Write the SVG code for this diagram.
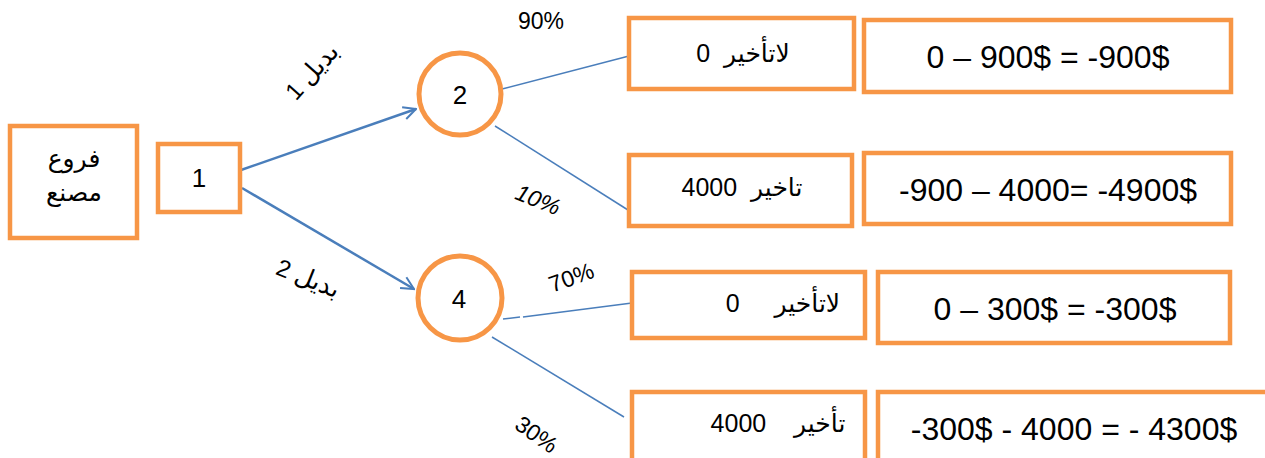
<svg xmlns="http://www.w3.org/2000/svg" width="1265" height="458" viewBox="0 0 1265 458">
<style>
.box{fill:#fff;stroke:#F79646;stroke-width:4.5}
.t{font-family:"Liberation Sans","DejaVu Sans",sans-serif;fill:#000;white-space:pre}
.ar-t{font-family:"DejaVu Sans",sans-serif;font-size:25px}
.ln{stroke:#4A7EBB;stroke-width:1.5;fill:none}
.ar{stroke:#4A7EBB;stroke-width:2.5;fill:none}
.pct{font-size:23px}
</style>
<defs>
<marker id="ah" viewBox="0 0 12 12" refX="11" refY="6" markerWidth="6" markerHeight="6" orient="auto" markerUnits="strokeWidth">
<path d="M1,1 L11,6 L1,11" fill="none" stroke="#4A7EBB" stroke-width="1.6"/>
</marker>
</defs>
<rect width="1265" height="458" fill="#fff"/>
<g id="connectors">
<line class="ar" x1="241" y1="170" x2="416" y2="109" marker-end="url(#ah)"/>
<line class="ar" x1="242" y1="188" x2="414" y2="289" marker-end="url(#ah)"/>
<line class="ln" x1="502" y1="89" x2="629" y2="56"/>
<line class="ln" x1="495" y1="126" x2="628" y2="210"/>
<line class="ln" x1="503" y1="319" x2="520" y2="317"/>
<line class="ln" x1="523" y1="317" x2="632" y2="303"/>
<line class="ln" x1="492" y1="337" x2="624" y2="417"/>
</g>
<g id="labels" class="t">
<text class="pct" x="541" y="29" text-anchor="middle">90%</text>
<text class="pct" transform="translate(535,207) rotate(22)" text-anchor="middle" font-style="italic">10%</text>
<text class="pct" transform="translate(574,285) rotate(-20)" text-anchor="middle">70%</text>
<text class="pct" transform="translate(532,441) rotate(35)" text-anchor="middle">30%</text>
<text transform="translate(318,77) rotate(-48)" font-size="24" text-anchor="middle">1 <tspan class="ar-t">بديل</tspan></text>
<text transform="translate(305,286) rotate(22)" font-size="24" text-anchor="middle">2 <tspan class="ar-t">بديل</tspan></text>
</g>
<g id="n-factory">
<rect class="box" x="10" y="126" width="127" height="112"/>
<text class="t" x="74" y="167" font-size="25" text-anchor="middle">فروع</text>
<text class="t" x="74" y="201" font-size="25" text-anchor="middle">مصنع</text>
</g>
<g id="n1">
<rect class="box" x="158" y="144" width="82" height="68"/>
<text class="t" x="199" y="187" font-size="26" text-anchor="middle">1</text>
</g>
<g id="n2">
<circle cx="460" cy="94" r="41" fill="#fff" stroke="#F79646" stroke-width="5"/>
<text class="t" x="460" y="104" font-size="26" text-anchor="middle">2</text>
</g>
<g id="n4">
<circle cx="460" cy="298" r="42" fill="#fff" stroke="#F79646" stroke-width="5"/>
<text class="t" x="459" y="308" font-size="26" text-anchor="middle">4</text>
</g>
<g id="nA">
<rect class="box" x="629" y="18" width="225" height="71"/>
<text class="t" x="743" y="62" font-size="25" text-anchor="middle">0  <tspan class="ar-t">لاتأخير</tspan></text>
</g>
<g id="nB">
<rect class="box" x="629" y="155" width="223" height="71"/>
<text class="t" x="742" y="196" font-size="25" text-anchor="middle">4000  <tspan class="ar-t">تاخير</tspan></text>
</g>
<g id="nC">
<rect class="box" x="632" y="272" width="233" height="66"/>
<text class="t" x="783" y="312" font-size="25" text-anchor="middle">0     <tspan class="ar-t">لاتأخير</tspan></text>
</g>
<g id="nD">
<rect class="box" x="632" y="392" width="233" height="80"/>
<text class="t" x="778" y="432" font-size="25" text-anchor="middle">4000    <tspan class="ar-t">تأخير</tspan></text>
</g>
<g id="nE">
<rect class="box" x="864" y="20" width="367" height="72"/>
<text class="t" x="1048" y="68" font-size="32" text-anchor="middle">0 – 900$ = -900$</text>
</g>
<g id="nF">
<rect class="box" x="864" y="153" width="367" height="71"/>
<text class="t" x="1048" y="201" font-size="32" text-anchor="middle">-900 – 4000= -4900$</text>
</g>
<g id="nG">
<rect class="box" x="878" y="272" width="352" height="71"/>
<text class="t" x="1055" y="320" font-size="32" text-anchor="middle">0 – 300$ = -300$</text>
</g>
<g id="nH">
<rect class="box" x="878" y="392" width="400" height="80"/>
<text class="t" x="1074" y="440" font-size="32" text-anchor="middle">-300$ - 4000 = - 4300$</text>
</g>
</svg>
